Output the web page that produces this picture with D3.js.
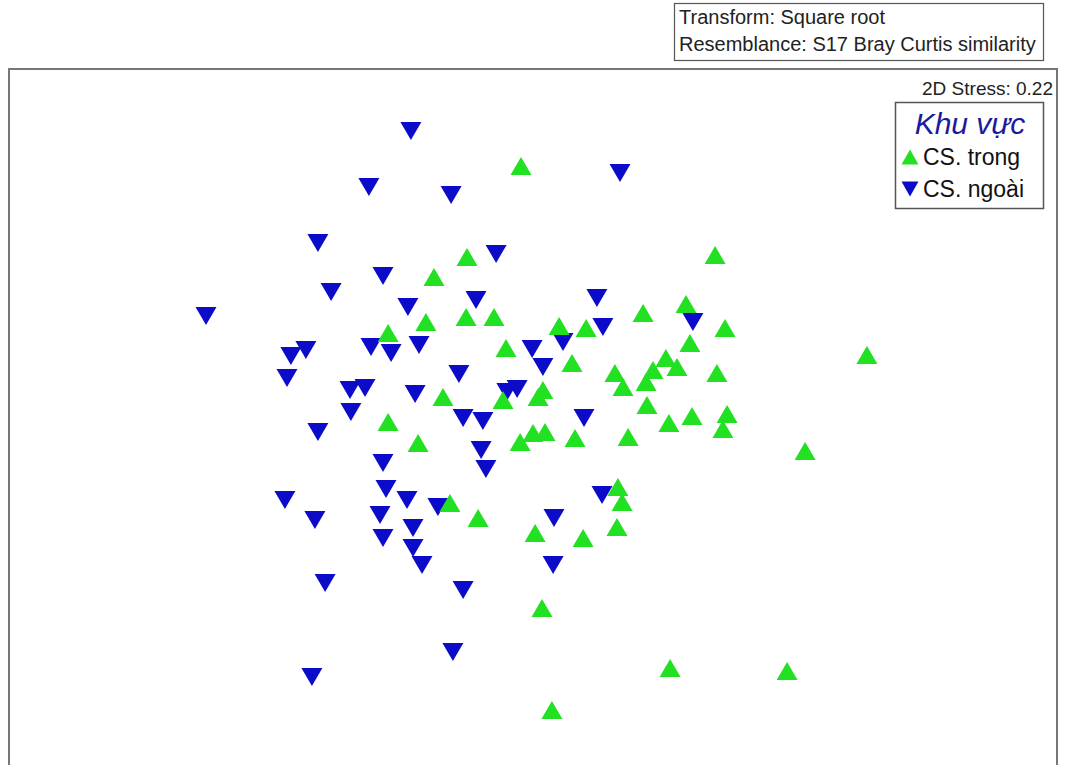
<!DOCTYPE html>
<html>
<head>
<meta charset="utf-8">
<script src="https://cdn.jsdelivr.net/npm/d3@7"></script>
<style>
  html, body { margin: 0; padding: 0; background: #fff; }
  svg { display: block; font-family: "Liberation Sans", Arial, sans-serif; }
</style>
</head>
<body>
<svg id="chart" width="1065" height="765"></svg>
<script>
// ---- Data (NMDS coordinates) ----
const groups = ["CS. trong", "CS. ngoài"];
const infoLines = ["Transform: Square root", "Resemblance: S17 Bray Curtis similarity"];
const stressLabel = "2D Stress: 0.22";
const legendTitle = "Khu vực";

const trongX = [-0.030,-0.210,-0.320,0.617,-0.473,-0.347,-0.213,-0.120,0.097,0.187,0.377,0.520,0.650,0.533,-0.080,0.140,0.283,0.310,0.410,0.453,0.490,0.387,0.623,1.123,-0.290,-0.090,0.043,0.027,-0.473,-0.373,-0.033,0.010,0.050,0.150,0.327,0.390,0.463,0.540,0.657,0.643,0.917,0.293,0.307,-0.267,-0.173,0.017,0.177,0.290,0.040,0.467,0.857,0.073];
const trongY = [0.780,0.477,0.410,0.483,0.223,0.260,0.277,0.277,0.247,0.240,0.290,0.320,0.240,0.190,0.173,0.123,0.090,0.043,0.100,0.140,0.110,0.060,0.090,0.150,0.010,0.000,0.033,0.010,-0.073,-0.143,-0.140,-0.110,-0.107,-0.127,-0.123,-0.017,-0.077,-0.053,-0.047,-0.097,-0.170,-0.290,-0.340,-0.343,-0.393,-0.443,-0.460,-0.423,-0.693,-0.893,-0.903,-1.033];

const ngoaiX = [-0.397,-0.537,-0.263,0.300,-0.707,-0.113,-0.490,-0.663,-1.080,-0.407,-0.180,0.223,0.243,0.543,-0.747,-0.797,-0.530,-0.463,-0.370,-0.810,0.007,0.110,0.043,-0.237,-0.600,-0.550,-0.383,-0.077,-0.043,-0.597,-0.707,-0.223,-0.157,0.180,-0.163,-0.147,-0.490,-0.480,-0.410,-0.307,-0.817,-0.717,-0.500,-0.390,-0.490,-0.390,-0.360,0.080,0.240,0.077,-0.683,-0.223,-0.257,-0.727];
const ngoaiY = [0.897,0.710,0.683,0.757,0.523,0.487,0.413,0.360,0.280,0.310,0.333,0.340,0.243,0.260,0.167,0.147,0.177,0.157,0.183,0.073,0.170,0.193,0.110,0.087,0.033,0.040,0.020,0.027,0.037,-0.040,-0.107,-0.060,-0.070,-0.060,-0.167,-0.230,-0.210,-0.297,-0.333,-0.357,-0.333,-0.400,-0.383,-0.427,-0.460,-0.493,-0.550,-0.393,-0.317,-0.550,-0.610,-0.633,-0.840,-0.923];

// ---- Layout ----
const svg = d3.select("#chart");
const colors = { "CS. trong": "#22e022", "CS. ngoài": "#0b0bc9" };
const plot = { left: 9, top: 69, right: 1057, bottom: 772 };

const x = d3.scaleLinear().domain([-1, 1]).range([230, 830]);
const y = d3.scaleLinear().domain([-1, 1]).range([700, 100]);

function tri(up, w, h) {
  const p = d3.path();
  if (up) { p.moveTo(-w/2, h/2); p.lineTo(w/2, h/2); p.lineTo(0, -h/2); }
  else    { p.moveTo(-w/2, -h/2); p.lineTo(w/2, -h/2); p.lineTo(0, h/2); }
  p.closePath();
  return p.toString();
}

// info box
svg.append("rect").attr("x", 674.5).attr("y", 3.5).attr("width", 369).attr("height", 57)
  .attr("fill", "#fff").attr("stroke", "#555").attr("stroke-width", 1.2);
svg.selectAll("text.info").data(infoLines).join("text").attr("class", "info")
  .attr("x", 679).attr("y", (d, i) => 24 + i * 27)
  .attr("font-size", 20).attr("fill", "#222").text(d => d);

// plot frame
svg.append("rect").attr("x", plot.left).attr("y", plot.top)
  .attr("width", plot.right - plot.left).attr("height", plot.bottom - plot.top)
  .attr("fill", "#fff").attr("stroke", "#777").attr("stroke-width", 2);

// points
const dataT = trongX.map((v, i) => ({ x: v, y: trongY[i], g: groups[0] }));
const dataN = ngoaiX.map((v, i) => ({ x: v, y: ngoaiY[i], g: groups[1] }));

svg.append("g").selectAll("path").data(dataN).join("path")
  .attr("transform", d => `translate(${x(d.x)},${y(d.y)})`)
  .attr("d", tri(false, 21, 18))
  .attr("fill", colors[groups[1]]);

svg.append("g").selectAll("path").data(dataT).join("path")
  .attr("transform", d => `translate(${x(d.x)},${y(d.y)})`)
  .attr("d", tri(true, 21, 18))
  .attr("fill", colors[groups[0]]);

// stress
svg.append("text").attr("x", 1053).attr("y", 95).attr("text-anchor", "end")
  .attr("font-size", 19).attr("fill", "#222").text(stressLabel);

// legend
const lg = svg.append("g");
lg.append("rect").attr("x", 895.5).attr("y", 102.5).attr("width", 148).attr("height", 106)
  .attr("fill", "#fff").attr("stroke", "#555").attr("stroke-width", 1.5);
lg.append("text").attr("x", 970).attr("y", 134).attr("text-anchor", "middle")
  .attr("font-size", 30).attr("font-style", "italic").attr("fill", "#1a1a9e").text(legendTitle);
const items = lg.selectAll("g.item").data(groups).join("g").attr("class", "item")
  .attr("transform", (d, i) => `translate(0,${157 + i * 32})`);
items.append("path").attr("transform", "translate(910,0)")
  .attr("d", (d, i) => tri(i === 0, 17, 15)).attr("fill", d => colors[d]);
items.append("text").attr("x", 923).attr("y", 8).attr("font-size", 23).attr("fill", "#111").text(d => d);
</script>
</body>
</html>
